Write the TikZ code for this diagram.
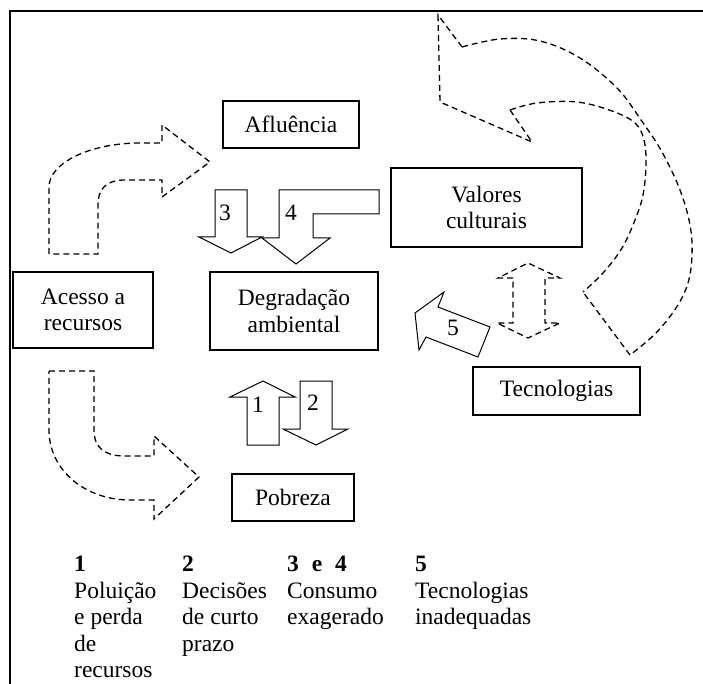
\documentclass[tikz,border=0pt]{standalone}
\usepackage{fontspec}
\setmainfont{Liberation Serif}
\begin{document}
\begin{tikzpicture}[x=1pt,y=-1pt,
  font=\fontsize{23.5}{26.5}\selectfont,
  box/.style={draw, line width=1.8pt, align=center, inner sep=0pt},
  solidarrow/.style={draw, line width=1pt, line join=miter},
  dasharrow/.style={draw, line width=1.3pt, dash pattern=on 6pt off 4pt, line join=miter},
  num/.style={inner sep=0pt},
  leg/.style={anchor=base west, inner sep=0pt}]
\useasboundingbox (0,0) rectangle (703,684);
% frame
\draw[line width=1.7pt] (10,684) -- (10,11) -- (703,11);
% boxes
\node[box, minimum width=136, minimum height=47] (afl) at (291,124.5) {Afluência};
\node[box, minimum width=191, minimum height=79] (val) at (486.5,207.5) {Valores\\culturais};
\node[box, minimum width=140, minimum height=76] (ace) at (83,310) {Acesso a\\recursos};
\node[box, minimum width=168, minimum height=78] (deg) at (294,311) {Degradação\\ambiental};
\node[box, minimum width=167, minimum height=48] (tec) at (556.5,391) {Tecnologias};
\node[box, minimum width=122, minimum height=47] (pob) at (293,497.5) {Pobreza};
% solid arrows
\draw[solidarrow] (215,190) -- (247,190) -- (247,237) -- (262,237) -- (231,253) -- (199,237) -- (215,237) -- cycle;
\draw[solidarrow] (279,190) -- (379,190) -- (379,214) -- (313,214) -- (313,238) -- (330,238) -- (296,264) -- (262,238) -- (279,238) -- cycle;
\draw[solidarrow] (247,445) -- (279,445) -- (279,397) -- (295,397) -- (263,381) -- (230,397) -- (247,397) -- cycle;
\draw[solidarrow] (300,381) -- (332,381) -- (332,429) -- (348,429) -- (316,445) -- (283,429) -- (300,429) -- cycle;
\draw[solidarrow] (415,313) -- (444,292) -- (438,307) -- (490,327) -- (478,357) -- (426,337) -- (419,350) -- cycle;
\node[num] (n3) at (225,213) {3};
\node[num] (n4) at (291,213) {4};
\node[num] (n1) at (258,405) {1};
\node[num] (n2) at (313,403) {2};
\node[num] (n5) at (453,328) {5};
% dashed arrows
\draw[dasharrow] (49,254) -- (49,187) .. controls (49,163) and (90,143) .. (140,143) -- (162,143) -- (162,125) -- (210,162) -- (162,197) -- (162,180) -- (125,180) .. controls (105,180) and (98,190) .. (98,205) -- (98,254) -- cycle;
\draw[dasharrow] (49,371) -- (94,371) -- (94,430) .. controls (94,448) and (105,456) .. (125,456) -- (154,456) -- (154,436) -- (199,477) -- (154,519) -- (154,500) -- (130,500) .. controls (85,500) and (49,470) .. (49,430) -- cycle;
\draw[dasharrow] (513,278) -- (498,278) -- (528,263) -- (560,278) -- (545,278) -- (545,323) -- (560,323) -- (528,338) -- (497,323) -- (513,323) -- cycle;
% big curved arrow
\draw[dasharrow] plot[smooth, tension=0.6] coordinates {(462,47) (500,39) (540,41) (580,58) (617,88) (641,120) (662,152) (680,190) (690,225) (692,255) (688,283) (676,308) (655,334) (630,355)};
\draw[dasharrow] plot[smooth, tension=0.6] coordinates {(510,110) (537,103) (577,102) (612,111) (635,123) (644,140) (646,165) (643,195) (635,220) (622,248) (603,273) (583,292)};
\draw[dasharrow] (462,47) -- (438,15) -- (440,102) -- (532,142) -- (510,110);
\draw[dasharrow] (630,355) -- (583,292);
% legend
\node[leg] (l1) at (74,571) {\textbf{1}};
\node[leg] (l1a) at (74,598) {Poluição};
\node[leg] (l1b) at (74,624.5) {e perda};
\node[leg] (l1c) at (74,651) {de};
\node[leg] (l1d) at (74,677.5) {recursos};
\node[leg] (l2) at (182,571) {\textbf{2}};
\node[leg] (l2a) at (182,598) {Decisões};
\node[leg] (l2b) at (182,624.5) {de curto};
\node[leg] (l2c) at (182,651) {prazo};
\node[leg] (l3) at (287,571) {\textbf{3\hspace{0.55em}e\hspace{0.55em}4}};
\node[leg] (l3a) at (287,598) {Consumo};
\node[leg] (l3b) at (287,624.5) {exagerado};
\node[leg] (l5) at (415,571) {\textbf{5}};
\node[leg] (l5a) at (415,598) {Tecnologias};
\node[leg] (l5b) at (415,624.5) {inadequadas};
\end{tikzpicture}
\end{document}
